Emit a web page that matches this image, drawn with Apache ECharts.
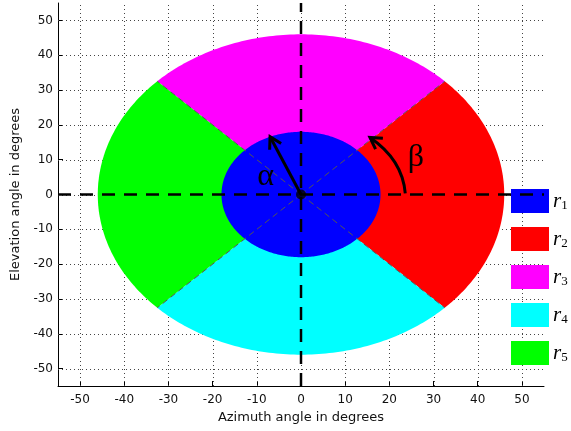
<!DOCTYPE html>
<html><head><meta charset="utf-8">
<script src="https://cdn.jsdelivr.net/npm/echarts@6/dist/echarts.min.js"></script>
<style>html,body{margin:0;padding:0;background:#fff}#c{width:571px;height:431px}</style>
</head><body><div id="c"></div>
<script>
const regionNames = ['r1','r2','r3','r4','r5'];
const regionColors = ['#0000ff','#ff0000','#ff00ff','#00ffff','#00ff00'];
const tickValues = [-50, -40, -30, -20, -10, 0, 10, 20, 30, 40, 50];
const innerRadius = 18;
const outerRadius = 46;
// angular bounds (degrees) for sectors r2..r5
const sectorStart = [-45, 45, 225, 135];
const sectorEnd = [45, 135, 315, 225];
const boundaryAngles = [45, 135, 225, 315];
const axisLineH = [[-55, 0], [55, 0]];
const axisLineV = [[0, -55], [0, 55]];
const alphaArrow = [[0, 0], [-7, 16.6]];
const betaArrow = [[23.6, 0.3], [23, 10], [15.6, 16.4]]; // start, control, tip
const alphaLabel = [-8, 5];
const betaLabel = [26, 10.5];
const centerPoint = [[0, 0]];

const chart = echarts.init(document.getElementById('c'));
const D = Math.PI / 180;

function wedge(r, a0, a1, color) {
  return function (params, api) {
    const pts = [api.coord([0, 0])];
    for (let a = a0; a <= a1 + 1e-9; a += 1) {
      pts.push(api.coord([r * Math.cos(a * D), r * Math.sin(a * D)]));
    }
    return { type: 'polygon', shape: { points: pts }, style: { fill: color } };
  };
}
function arrowHead(tip, from, len) {
  const ang = Math.atan2(tip[1] - from[1], tip[0] - from[0]);
  const w = 30 * D;
  return [
    [tip[0] - len * Math.cos(ang - w), tip[1] - len * Math.sin(ang - w)],
    tip,
    [tip[0] - len * Math.cos(ang + w), tip[1] - len * Math.sin(ang + w)]
  ];
}

const series = [];
// dotted grid lines
series.push({
  type: 'custom', coordinateSystem: 'cartesian2d', data: tickValues.map(v => [v]), z: 1, silent: true,
  renderItem: function (params, api) {
    const v = api.value(0);
    const h0 = api.coord([-55, v]), h1 = api.coord([55, v]);
    const v0 = api.coord([v, -55]), v1 = api.coord([v, 55]);
    const st = { stroke: '#444', lineWidth: 1, lineDash: [1, 3] };
    return { type: 'group', children: [
      { type: 'line', shape: { x1: h0[0], y1: Math.round(h0[1]) + 0.5, x2: h1[0], y2: Math.round(h1[1]) + 0.5 }, style: st },
      { type: 'line', shape: { x1: Math.round(v0[0]) + 0.5, y1: v0[1], x2: Math.round(v1[0]) + 0.5, y2: v1[1] }, style: st }
    ] };
  }
});
for (let i = 0; i < 4; i++) {
  series.push({
    name: regionNames[i + 1], type: 'custom', coordinateSystem: 'cartesian2d',
    itemStyle: { color: regionColors[i + 1] },
    data: [[0, 0]], renderItem: wedge(outerRadius, sectorStart[i], sectorEnd[i], regionColors[i + 1]),
    z: 2, silent: true
  });
}
series.push({
  name: regionNames[0], type: 'custom', coordinateSystem: 'cartesian2d',
  itemStyle: { color: regionColors[0] },
  data: [[0, 0]], renderItem: wedge(innerRadius, 0, 360, regionColors[0]), z: 3, silent: true
});
// diagonal boundary lines
series.push({
  type: 'custom', coordinateSystem: 'cartesian2d', data: boundaryAngles.map(a => [a]), z: 4, silent: true,
  renderItem: function (params, api) {
    const a = api.value(0) * D;
    const p0 = api.coord([0, 0]);
    const p1 = api.coord([outerRadius * Math.cos(a), outerRadius * Math.sin(a)]);
    return { type: 'line', shape: { x1: p0[0], y1: p0[1], x2: p1[0], y2: p1[1] },
      style: { stroke: '#555', lineWidth: 1, lineDash: [6, 4] } };
  }
});
// black dashed axes lines
[axisLineH, axisLineV].forEach(d => series.push({
  type: 'line', data: d, symbol: 'none', z: 5, silent: true,
  lineStyle: { color: '#000', width: 2.5, type: [13, 9] }
}));
// arrows
series.push({
  type: 'custom', coordinateSystem: 'cartesian2d', data: [[0]], z: 6, silent: true,
  renderItem: function (params, api) {
    const a0 = api.coord(alphaArrow[0]), a1 = api.coord(alphaArrow[1]);
    const b0 = api.coord(betaArrow[0]), bc = api.coord(betaArrow[1]), b1 = api.coord(betaArrow[2]);
    const st = { stroke: '#000', lineWidth: 3, fill: null };
    const al = api.coord(alphaLabel), bl = api.coord(betaLabel);
    return { type: 'group', children: [
      { type: 'line', shape: { x1: a0[0], y1: a0[1], x2: a1[0], y2: a1[1] }, style: st },
      { type: 'polyline', shape: { points: arrowHead(a1, a0, 13) }, style: st },
      { type: 'bezierCurve', shape: { x1: b0[0], y1: b0[1], cpx1: bc[0], cpy1: bc[1], x2: b1[0], y2: b1[1] }, style: st },
      { type: 'polyline', shape: { points: arrowHead(b1, bc, 13) }, style: st },
      { type: 'text', x: al[0], y: al[1], style: { text: 'α', fill: '#000', font: '32px "Liberation Serif"', align: 'center', verticalAlign: 'middle' } },
      { type: 'text', x: bl[0], y: bl[1], style: { text: 'β', fill: '#000', font: '32px "Liberation Serif"', align: 'center', verticalAlign: 'middle' } }
    ] };
  }
});
series.push({
  type: 'scatter', data: centerPoint, symbol: 'circle', symbolSize: 10, z: 7, silent: true,
  itemStyle: { color: '#000' }
});

const axisCommon = {
  type: 'value', min: -55, max: 55,
  axisLine: { show: true, onZero: false, lineStyle: { color: '#000', width: 1 } },
  axisTick: { show: true, inside: true, length: 5, lineStyle: { color: '#000' }, customValues: tickValues },
  axisLabel: { color: '#111', fontSize: 12, fontFamily: 'DejaVu Sans', customValues: tickValues },
  splitLine: { show: false },
  nameLocation: 'middle',
  nameTextStyle: { color: '#111', fontSize: 13, fontFamily: 'DejaVu Sans' }
};

chart.setOption({
  animation: false,
  backgroundColor: '#fff',
  grid: { left: 58, right: 27, top: 3, bottom: 45, containLabel: false },
  xAxis: Object.assign({}, axisCommon, { name: 'Azimuth angle in degrees', nameGap: 18,
    axisLabel: Object.assign({}, axisCommon.axisLabel, { margin: 8 }) }),
  yAxis: Object.assign({}, axisCommon, { name: 'Elevation angle in degrees', nameGap: 34,
    axisLabel: Object.assign({}, axisCommon.axisLabel, { margin: 5 }) }),
  legend: {
    left: 511, top: 189, padding: 0, orient: 'vertical', itemWidth: 38, itemHeight: 24, itemGap: 14,
    icon: 'rect', selectedMode: false,
    data: regionNames,
    formatter: function (n) { return '{a|r}{b|' + n.slice(1) + '}'; },
    textStyle: {
      padding: [0, 0, 0, -1],
      rich: {
        a: { fontFamily: 'Liberation Serif', fontStyle: 'italic', fontSize: 21, color: '#000', height: 24 },
        b: { fontFamily: 'Liberation Serif', fontSize: 13, color: '#000', padding: [9, 0, 0, 0] }
      }
    }
  },
  series: series
});
</script></body></html>
